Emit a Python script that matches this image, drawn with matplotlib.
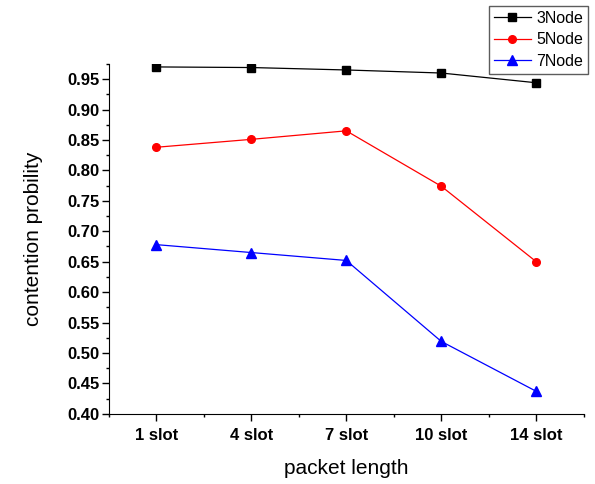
import matplotlib
matplotlib.use("Agg")
import matplotlib.pyplot as plt
from matplotlib.ticker import MultipleLocator

plt.rcParams['font.family'] = ['Liberation Sans', 'DejaVu Sans']

categories = ['1 slot', '4 slot', '7 slot', '10 slot', '14 slot']
node3 = [0.970, 0.969, 0.965, 0.960, 0.944]
node5 = [0.838, 0.851, 0.865, 0.774, 0.650]
node7 = [0.678, 0.665, 0.652, 0.519, 0.437]

x = list(range(len(categories)))

fig = plt.figure(figsize=(5.95, 4.84), dpi=100)
ax = fig.add_axes([0.183, 0.145, 0.798, 0.723])

ax.plot(x, node3, color='black', lw=0.9, marker='s', ms=5.5, label='3Node')
ax.plot(x, node5, color='red', lw=0.9, marker='o', ms=5.5, label='5Node')
ax.plot(x, node7, color='blue', lw=0.9, marker='^', ms=7, label='7Node')

ax.set_xlim(-0.5, 4.5)
ax.set_xticks(x)
ax.set_xticklabels(categories, fontweight='bold', fontsize=12)
ax.xaxis.set_minor_locator(MultipleLocator(0.5))
yt = [0.40 + 0.05 * i for i in range(12)]
ax.set_yticks(yt)
ax.set_yticklabels(['%.2f' % v for v in yt], fontweight='bold', fontsize=12)
ax.yaxis.set_minor_locator(MultipleLocator(0.025))
ax.set_ylim(0.40, 0.975)

ax.tick_params(which='major', direction='out', length=5, width=1)
ax.tick_params(which='minor', direction='out', length=2.5, width=1)
ax.tick_params(axis='x', pad=5)
ax.tick_params(axis='y', pad=2)
for s in ['top', 'right']:
    ax.spines[s].set_visible(False)

ax.set_xlabel('packet length', fontsize=15, labelpad=12)
ax.set_ylabel('contention probility', fontsize=15, labelpad=17)

leg = fig.legend(loc='upper right', bbox_to_anchor=(0.988, 0.987), fontsize=11.5,
                 frameon=True, fancybox=False, edgecolor='#333333',
                 handlelength=2.3, borderpad=0.3, labelspacing=0.4,
                 handletextpad=0.35, borderaxespad=0)
leg.get_frame().set_linewidth(1)

fig.savefig('out.png', dpi=100)
